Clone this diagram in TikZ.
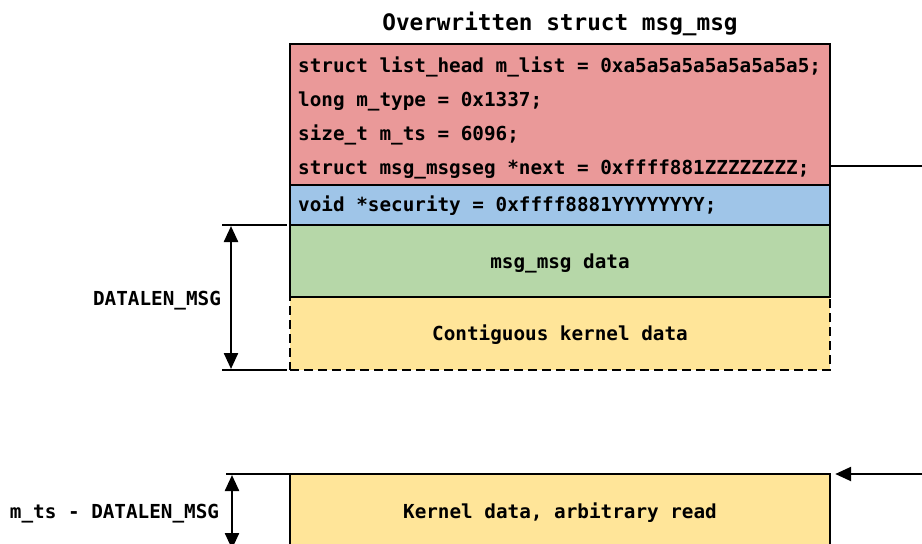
\documentclass[tikz,border=0pt]{standalone}
\usepackage{fontspec}
\setmonofont{DejaVu Sans Mono}
\usetikzlibrary{arrows.meta}

\definecolor{hdrred}{HTML}{EA9999}
\definecolor{secblue}{HTML}{9FC5E8}
\definecolor{datgreen}{HTML}{B6D7A8}
\definecolor{kernyellow}{HTML}{FFE599}

\tikzset{
  codefont/.style={font=\ttfamily\bfseries\fontsize{19.3}{23}\selectfont},
  field/.style={codefont, rectangle, draw=black, line width=2.4pt, minimum width=540pt, inner sep=0pt, text height=14pt, text depth=0pt},
  codeline/.style={codefont, anchor=base west, inner sep=0pt},
  caption/.style={codefont, inner sep=0pt, text height=14pt, text depth=0pt},
  tick/.style={line width=2.4pt},
  dim/.style={line width=2.4pt, {Triangle[length=16pt,width=14pt]}-{Triangle[length=16pt,width=14pt]}},
  ptr/.style={line width=2.4pt, -{Triangle[length=16pt,width=14pt]}},
}

\begin{document}
\begin{tikzpicture}[x=1pt, y=-1pt]
  \useasboundingbox (0,0) rectangle (922,544);
  \clip (0,0) rectangle (922,544);

  % title
  \node[inner sep=0pt, font=\ttfamily\bfseries\fontsize{22.7}{26}\selectfont, text height=16.5pt, text depth=0pt] (title) at (560,22) {Overwritten struct msg\_msg};

  % msg_msg header fields
  \node[field, fill=hdrred, minimum height=141pt] (hdr) at (560,114.5) {};
  \node[codeline] (f1) at (298,72) {struct list\_head m\_list = 0xa5a5a5a5a5a5a5a5;};
  \node[codeline] (f2) at (298,106) {long m\_type = 0x1337;};
  \node[codeline] (f3) at (298,140) {size\_t m\_ts = 6096;};
  \node[codeline] (f4) at (298,174) {struct msg\_msgseg *next = 0xffff881ZZZZZZZZ;};

  % security pointer
  \node[field, fill=secblue, minimum height=40pt] (sec) at (560,205) {};
  \node[codeline] (f5) at (298,211) {void *security = 0xffff8881YYYYYYYY;};

  % contiguous data after the object (dashed)
  \node[field, fill=kernyellow, dash pattern=on 9pt off 5pt, minimum height=73pt] (contig) at (560,333.5) {Contiguous kernel data};

  % message data
  \node[field, fill=datgreen, minimum height=72pt] (data) at (560,261) {msg\_msg data};

  % next segment pointer leaving to the right
  \coordinate (nextR) at (922,166);
  \draw[tick] (hdr.east |- nextR) -- (nextR);

  % DATALEN_MSG dimension
  \coordinate (dTopL) at (222,225);
  \coordinate (dTopR) at (287,225);
  \coordinate (dBotL) at (222,370);
  \coordinate (dBotR) at (287,370);
  \coordinate (dArrT) at (231,226);
  \coordinate (dArrB) at (231,369);
  \draw[tick] (dTopL) -- (dTopR);
  \draw[tick] (dBotL) -- (dBotR);
  \draw[dim] (dArrT) -- (dArrB);
  \node[caption] (dlabel) at (157,298) {DATALEN\_MSG};

  % arbitrary read region
  \node[field, fill=kernyellow, minimum height=74pt] (kread) at (560,511) {Kernel data, arbitrary read};
  \coordinate (readR) at (922,474);
  \coordinate (readTip) at ([xshift=4pt]kread.east |- readR);
  \draw[ptr] (readR) -- (readTip);

  % m_ts - DATALEN_MSG dimension
  \coordinate (rTopL) at (226,474);
  \coordinate (rTopR) at (290,474);
  \coordinate (rArrT) at (232,475);
  \coordinate (rArrB) at (232,549);
  \draw[tick] (rTopL) -- (rTopR);
  \draw[dim] (rArrT) -- (rArrB);
  \node[caption] (rlabel) at (114.5,511) {m\_ts - DATALEN\_MSG};
\end{tikzpicture}
\end{document}
